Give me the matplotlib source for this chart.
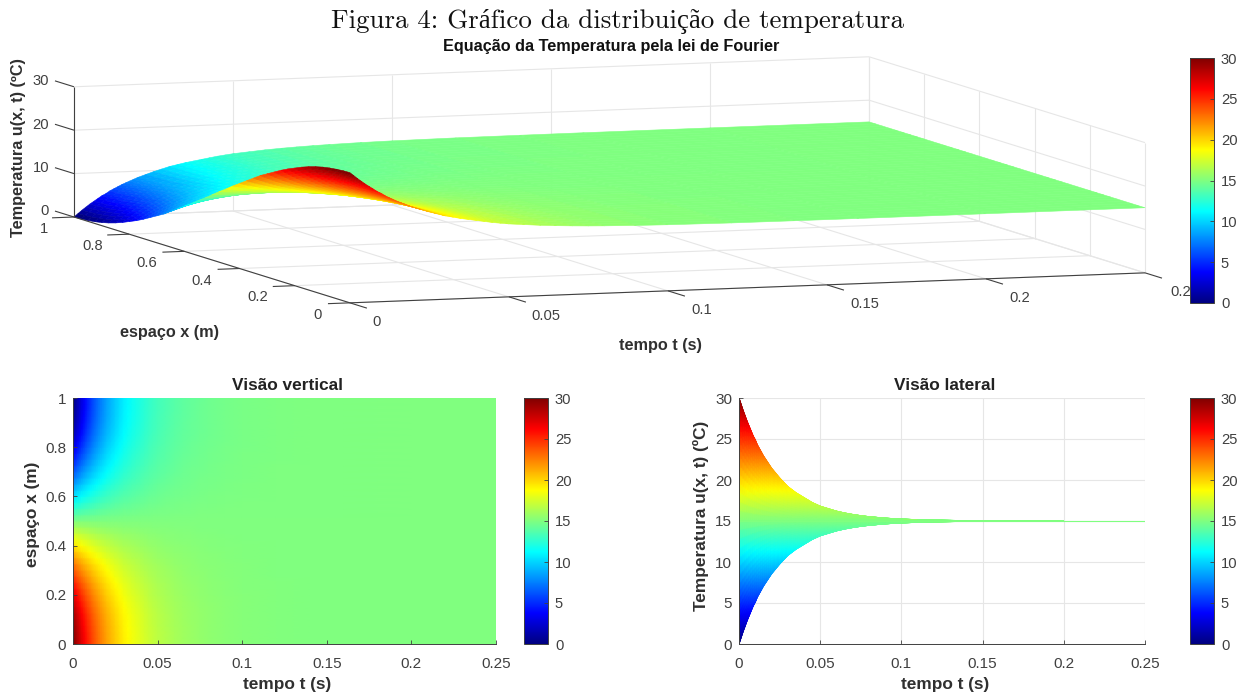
import numpy as np
import matplotlib
matplotlib.use('Agg')
import matplotlib.pyplot as plt
from matplotlib.colors import LinearSegmentedColormap, Normalize
from matplotlib.cm import ScalarMappable
from mpl_toolkits.mplot3d import proj3d

plt.rcParams['font.family'] = ['Liberation Sans', 'DejaVu Sans']

# valores
x_pos = [0, .025, .05, .075, .1, .125, .15, .175, .2, .225, .25, .275, .3, .325, .35, .375, .4, .425, .45, .475, .5,
         .525, .55, .575, .6, .625, .65, .675, .7, .725, .75, .775, .8, .825, .85, .875, .9, .925, .95, .975, 1]
# desvio em relacao a 15 graus no instante t = 0
x_desvio = [15.0, 14.95, 14.8, 14.6, 14.3, 13.9, 13.4, 12.8, 12.1, 11.4, 10.6, 9.7, 8.8, 7.9, 6.8, 5.7, 4.6, 3.5, 2.3, 1.2, 0,
            -1.2, -2.3, -3.5, -4.6, -5.7, -6.8, -7.9, -8.8, -9.7, -10.6, -11.4, -12.1, -12.8, -13.4, -13.9, -14.3, -14.6, -14.8, -14.95, -15.0]
t_pos = [0, .00125, .0025, .00375, .005, .00625, .0075, .00875, .01, .01125, .0125, .01375, .015, .01625, .0175, .01875, .02,
         .0225, .025, .0275, .03, .0325, .035, .0375, .04, .0425, .045, .0475, .05,
         .055, .06, .065, .07, .075, .08, .09, .1, .12, .14, .16, .2, .25]
t_fator = [1, .95, .90, .855, .81, .77, .73, .69, .66, .62, .59, .56, .53, .505, .48, .455, .43,
           .39, .35, .315, .28, .255, .23, .21, .19, .17, .15, .135, .12,
           .10, .08, .065, .053, .043, .035, .023, .015, .006, .003, .001, 0, 0]

t_ticks = [0, .05, .1, .15, .2, .25]
t_labels = ['0', '0.05', '0.1', '0.15', '0.2', '0.25']
x_ticks = [0, .2, .4, .6, .8, 1]
x_labels = ['0', '0.2', '0.4', '0.6', '0.8', '1']
z_ticks = [0, 10, 20, 30]
u_ticks = [0, 5, 10, 15, 20, 25, 30]

x_arr = np.array(x_pos)
t_arr = np.array(t_pos)
u = 15 + np.outer(x_desvio, t_fator)
T, X = np.meshgrid(t_arr, x_arr)

W, H = 1245, 695
FS = 10.6
FS2 = 11
LAB = 11.7
LAB2 = 12.4
TXT = '#404040'
BOLD = '#303030'
GRID = '#e6e6e6'
DARK = '#404040'

# jet igual ao do MATLAB
jet = LinearSegmentedColormap.from_list('jet_m', [(0, (0, 0, .5)), (.125, (0, 0, 1)), (.375, (0, 1, 1)),
                                                  (.625, (1, 1, 0)), (.875, (1, 0, 0)), (1, (.5, 0, 0))], N=512)
norm = Normalize(0, 30)

fig = plt.figure(figsize=(W / 100, H / 100), dpi=100)


def box(x0, y0, x1, y1):
    # caixa em pixels da imagem
    return [x0 / W, 1 - y1 / H, (x1 - x0) / W, (y1 - y0) / H]


def ptxt(px, py, s, **kw):
    kw.setdefault('ha', 'center')
    kw.setdefault('va', 'center')
    kw.setdefault('fontsize', FS)
    kw.setdefault('color', TXT)
    return fig.text(px / W, 1 - py / H, s, **kw)


def colorbar(x0, y0, x1, y1):
    cax = fig.add_axes(box(x0, y0, x1, y1), zorder=10)
    cb = fig.colorbar(ScalarMappable(norm=norm, cmap=jet), cax=cax, ticks=u_ticks)
    cb.ax.tick_params(labelsize=FS, labelcolor=TXT, color=DARK, length=3, width=.6, direction='in', pad=5)
    cb.outline.set_edgecolor(DARK)
    cb.outline.set_linewidth(.7)
    return cb


# ---- grafico 3D
ax = fig.add_axes([0, -.4, 1, W / H], projection='3d', proj_type='ortho')
ax.view_init(elev=6.22, azim=-109.2)
ax.set_xlim(0, .25, view_margin=0)
ax.set_ylim(0, 1, view_margin=0)
ax.set_zlim(0, 30, view_margin=0)
ax.set_axis_off()
ax.computed_zorder = False
aspect = (842, 839, 131)


def corner(t, x, z):
    px, py, _ = proj3d.proj_transform(t, x, z, ax.get_proj())
    return ax.transData.transform((px, py))


ax.set_box_aspect(aspect)
fig.canvas.draw()
largura = corner(.25, 0, 0)[0] - corner(0, 1, 0)[0]
ax.set_box_aspect(aspect, zoom=1071 / largura)
fig.canvas.draw()
p0 = corner(0, 1, 0)
pos = ax.get_position(original=True)
ax.set_position([pos.x0 + (74 - p0[0]) / W, pos.y0 + (H - 217 - p0[1]) / H, pos.width, pos.height])


def line3(ts, xs, zs, color=GRID, lw=.8, zorder=1):
    ax.plot(ts, xs, zs, color=color, lw=lw, zorder=zorder, solid_capstyle='butt')


for v in x_ticks:
    line3([0, .25], [v, v], [0, 0])
    line3([.25, .25], [v, v], [0, 30])
for v in t_ticks:
    line3([v, v], [0, 1], [0, 0])
    line3([v, v], [1, 1], [0, 30])
for v in z_ticks:
    line3([0, .25], [1, 1], [v, v])
    line3([.25, .25], [0, 1], [v, v])

cores = jet(norm(u))
ax.plot_surface(T, X, u, facecolors=cores, shade=False, rstride=1, cstride=1, linewidth=.4, antialiased=True, zorder=2)

line3([0, 0], [1, 1], [0, 30], DARK, .8, 3)
line3([0, 0], [0, 1], [0, 0], DARK, .8, 3)
line3([0, .25], [0, 0], [0, 0], DARK, .8, 3)
for v in z_ticks:
    line3([0, 0], [1, 1.069], [v, v], DARK, .8, 3)
for v in x_ticks:
    line3([-.0069, 0], [v, v], [0, 0], DARK, .8, 3)
for v in t_ticks:
    line3([v, v], [-.0616, 0], [0, 0], DARK, .8, 3)

for lab, py in zip(['30', '20', '10', '0'], [81, 125, 168, 211]):
    ptxt(49, py, lab, ha='right')
for lab, px, py in zip(['1', '0.8', '0.6', '0.4', '0.2', '0'], [44, 93, 147, 202, 258, 318], [229, 246, 263, 281, 297, 315]):
    ptxt(px, py, lab)
for lab, px, py in zip(t_labels, [377, 546, 702, 865, 1020, 1185], [322, 316, 310, 304, 298, 292]):
    ptxt(px, py, lab)
ptxt(170, 333, 'espaço x (m)', fontweight='bold', fontsize=LAB, color=BOLD)
ptxt(660, 346, 'tempo t (s)', fontweight='bold', fontsize=LAB, color=BOLD)
ptxt(19, 148, 'Temperatura u(x, t) (ºC)', fontweight='bold', rotation=90, fontsize=LAB, color=BOLD)
ptxt(611, 47, 'Equação da Temperatura pela lei de Fourier', fontweight='bold', fontsize=LAB, color='#111111')
ptxt(617, 22, 'Figura 4: Gráfico da distribuição de temperatura', fontsize=19.4, color='#111111',
     family=['cmr10', 'Liberation Serif', 'DejaVu Serif'])
colorbar(1190, 58, 1214, 303)


def estilo(a):
    a.spines[['top', 'right']].set_visible(False)
    a.spines[['left', 'bottom']].set_color(DARK)
    a.spines[['left', 'bottom']].set_linewidth(.7)
    a.tick_params(labelsize=FS2, labelcolor=TXT, color=DARK, length=3, width=.6, direction='in')
    a.tick_params(axis='x', pad=9)
    a.tick_params(axis='y', pad=5)
    a.set_xlim(0, .25)
    a.set_xticks(t_ticks, t_labels)


# ---- visao vertical
a1 = fig.add_axes(box(73, 398, 496, 644))
a1.pcolormesh(T, X, u, cmap=jet, norm=norm, shading='gouraud')
estilo(a1)
a1.set_ylim(0, 1)
a1.set_yticks(x_ticks, x_labels)
ptxt(287, 386, 'Visão vertical', fontweight='bold', fontsize=LAB2, color='#222222')
ptxt(287, 684, 'tempo t (s)', fontweight='bold', fontsize=LAB2, color=BOLD)
ptxt(33, 514, 'espaço x (m)', fontweight='bold', rotation=90, fontsize=LAB2, color=BOLD)
colorbar(524, 398, 548, 644)

# ---- visao lateral
a2 = fig.add_axes(box(739, 398, 1145, 644))
a2.grid(True, color=GRID, lw=.8)
a2.set_axisbelow(True)
a2.pcolormesh(T, u, u, cmap=jet, norm=norm, shading='gouraud')
a2.plot(t_pos, u[20], color='#80ff80', lw=.8)
estilo(a2)
a2.set_ylim(0, 30)
a2.set_yticks(u_ticks)
ptxt(945, 386, 'Visão lateral', fontweight='bold', fontsize=LAB2, color='#222222')
ptxt(945, 684, 'tempo t (s)', fontweight='bold', fontsize=LAB2, color=BOLD)
ptxt(701, 516, 'Temperatura u(x, t) (ºC)', fontweight='bold', rotation=90, fontsize=LAB2, color=BOLD)
colorbar(1190, 398, 1214, 644)

fig.savefig('out.png', dpi=100)
